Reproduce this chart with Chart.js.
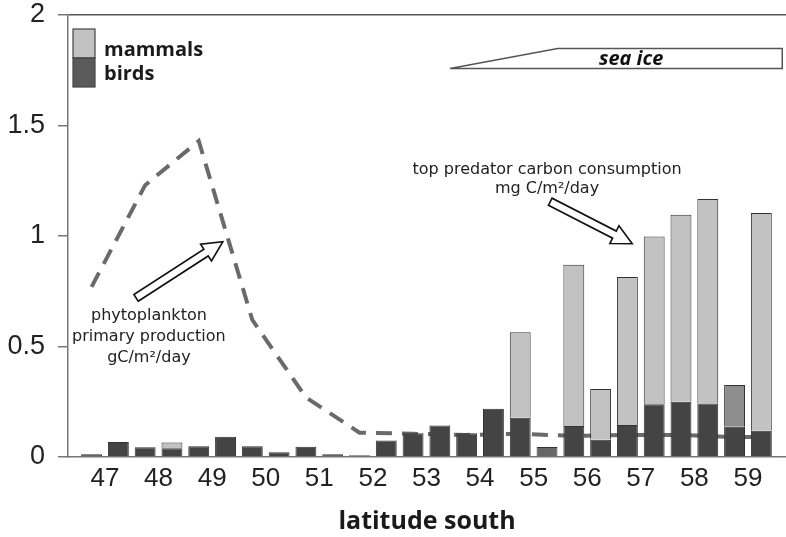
<!DOCTYPE html>
<html>
<head>
<meta charset="utf-8">
<script src="https://cdn.jsdelivr.net/npm/chart.js@4"></script>
<style>
  html, body { margin: 0; padding: 0; background: #fff; }
  #wrap { width: 786px; height: 537px; position: relative; }
</style>
</head>
<body>
<div id="wrap"><canvas id="latChart"></canvas></div>
<script>
// half-degree latitude bins (bar centres, degrees south)
const binCentres = [46.75, 47.25, 47.75, 48.25, 48.75, 49.25, 49.75, 50.25, 50.75, 51.25, 51.75, 52.25, 52.75,
  53.25, 53.75, 54.25, 54.75, 55.25, 55.75, 56.25, 56.75, 57.25, 57.75, 58.25, 58.75, 59.25];

// top predator carbon consumption, mg C/m2/day
const birds = [0.012, 0.068, 0.044, 0.040, 0.049, 0.092, 0.049, 0.022, 0.046, 0.012, 0.008, 0.075, 0.108,
  0.142, 0.108, 0.218, 0.178, 0.045, 0.140, 0.078, 0.145, 0.239, 0.250, 0.242, 0.137, 0.119];
const mammals = [null, null, null, 0.026, null, null, null, null, null, null, null, null, null,
  null, null, null, 0.387, null, 0.730, 0.230, 0.669, 0.759, 0.846, 0.925, 0.189, 0.985];

// phytoplankton primary production, gC/m2/day
const ppLat = [46.75, 47.75, 48.75, 49.75, 50.75, 51.75, 52.75, 53.75, 54.75, 55.75, 56.75, 57.75, 58.75, 59.25];
const ppValues = [0.77, 1.23, 1.43, 0.62, 0.27, 0.11, 0.105, 0.10, 0.105, 0.095, 0.10, 0.10, 0.09, 0.09];

const latTicks = [47, 48, 49, 50, 51, 52, 53, 54, 55, 56, 57, 58, 59];
const valueTicks = [0, 0.5, 1, 1.5, 2];

// bins where the observers shaded the bar a bit differently
const oddBirdBins = [55.25];
const oddMammalBins = [58.75];

const DARK = '#444';
const LIGHT = '#c2c2c2';
const EDGE = '#333';

function toPoints(xs, ys) {
  return xs.map((x, i) => ({ x: x, y: ys[i] }));
}

// hollow block arrow from tail to tip (pixel coords)
function hollowArrow(ctx, x0, y0, x1, y1) {
  const dx = x1 - x0, dy = y1 - y0;
  const len = Math.hypot(dx, dy);
  const ux = dx / len, uy = dy / len;
  const nx = -uy, ny = ux;
  const shaft = 4, head = 10, headLen = 20;
  const bx = x1 - ux * headLen, by = y1 - uy * headLen;
  ctx.beginPath();
  ctx.moveTo(x0 + nx * shaft, y0 + ny * shaft);
  ctx.lineTo(bx + nx * shaft, by + ny * shaft);
  ctx.lineTo(bx + nx * head, by + ny * head);
  ctx.lineTo(x1, y1);
  ctx.lineTo(bx - nx * head, by - ny * head);
  ctx.lineTo(bx - nx * shaft, by - ny * shaft);
  ctx.lineTo(x0 - nx * shaft, y0 - ny * shaft);
  ctx.closePath();
  ctx.fillStyle = '#fff';
  ctx.fill();
  ctx.lineWidth = 1.6;
  ctx.strokeStyle = '#111';
  ctx.stroke();
}

const annotations = {
  id: 'annotations',
  afterDatasetsDraw(chart) {
    const { ctx, chartArea, scales: { x, y } } = chart;
    const px = v => x.getPixelForValue(v);
    const py = v => y.getPixelForValue(v);
    ctx.save();

    // legend: one split swatch
    const lx = chartArea.left + 5, ly = chartArea.top + 14;
    ctx.lineWidth = 1.2;
    ctx.strokeStyle = '#444';
    ctx.fillStyle = LIGHT;
    ctx.fillRect(lx, ly, 22, 29);
    ctx.fillStyle = '#5a5a5a';
    ctx.fillRect(lx, ly + 29, 22, 29);
    ctx.strokeRect(lx, ly, 22, 29);
    ctx.strokeRect(lx, ly + 29, 22, 29);
    ctx.fillStyle = '#1a1a1a';
    ctx.font = 'bold 20px "Open Sans"';
    ctx.textAlign = 'left';
    ctx.textBaseline = 'alphabetic';
    ctx.fillText('mammals', lx + 31, ly + 27);
    ctx.fillText('birds', lx + 31, ly + 51);

    // sea ice wedge
    ctx.beginPath();
    ctx.moveTo(px(53.44), py(1.758));
    ctx.lineTo(px(55.45), py(1.848));
    ctx.lineTo(px(59.64), py(1.848));
    ctx.lineTo(px(59.64), py(1.758));
    ctx.closePath();
    ctx.fillStyle = '#fff';
    ctx.fill();
    ctx.lineWidth = 1.5;
    ctx.strokeStyle = '#555';
    ctx.stroke();
    ctx.fillStyle = '#111';
    ctx.font = 'italic bold 20px "Open Sans"';
    ctx.textAlign = 'center';
    ctx.textBaseline = 'middle';
    ctx.fillText('sea ice', px(56.82), py(1.80));

    // series labels
    ctx.font = '16px "DejaVu Sans"';
    ctx.fillStyle = '#222';
    ctx.fillText('top predator carbon consumption', px(55.25), py(1.30));
    ctx.fillText('mg C/m²/day', px(55.25), py(1.214));
    ctx.fillText('phytoplankton', px(47.82), py(0.639));
    ctx.fillText('primary production', px(47.82), py(0.544));
    ctx.fillText('gC/m²/day', px(47.82), py(0.448));

    hollowArrow(ctx, px(55.31), py(1.155), px(56.84), py(0.965));
    hollowArrow(ctx, px(47.58), py(0.72), px(49.2), py(0.974));
    ctx.restore();
  }
};

new Chart(document.getElementById('latChart'), {
  type: 'bar',
  data: {
    datasets: [{
      label: 'birds',
      data: toPoints(binCentres, birds),
      backgroundColor: c => oddBirdBins.includes(c.raw && c.raw.x) ? '#676767' : DARK,
      borderColor: EDGE,
      borderWidth: 1,
      barPercentage: 0.78,
      categoryPercentage: 1,
      order: 1
    }, {
      label: 'mammals',
      data: toPoints(binCentres, mammals),
      backgroundColor: c => oddMammalBins.includes(c.raw && c.raw.x) ? '#8d8d8d' : LIGHT,
      borderColor: EDGE,
      borderWidth: 1,
      barPercentage: 0.78,
      categoryPercentage: 1,
      order: 1
    }, {
      type: 'line',
      label: 'phytoplankton',
      stack: 'pp',
      data: toPoints(ppLat, ppValues),
      borderColor: '#6a6a6a',
      borderWidth: 4,
      borderDash: [16, 10],
      pointRadius: 0,
      tension: 0,
      fill: false,
      order: 2
    }]
  },
  options: {
    animation: false,
    responsive: true,
    maintainAspectRatio: false,
    layout: { padding: { top: 15, right: 0, left: 0, bottom: 0 } },
    plugins: {
      legend: { display: false },
      tooltip: { enabled: false }
    },
    scales: {
      x: {
        type: 'linear',
        stacked: true,
        offset: false,
        min: 46.31,
        max: 59.71,
        afterBuildTicks: scale => { scale.ticks = latTicks.map(v => ({ value: v })); },
        afterFit: scale => {
          scale.height = 80;
          scale.paddingLeft = 0;
          scale.paddingRight = 0;
        },
        grid: { display: false, drawTicks: false },
        border: { display: true, color: '#777', width: 1.5 },
        ticks: {
          padding: 6,
          color: '#222',
          callback: v => String(v),
          font: { family: '"Liberation Sans"', size: 26 }
        },
        title: {
          display: true,
          text: 'latitude south',
          color: '#1a1a1a',
          padding: { top: 0, bottom: 3 },
          font: { family: '"Open Sans"', size: 25, weight: 'bold', lineHeight: 1 }
        }
      },
      y: {
        stacked: true,
        min: 0,
        max: 2,
        afterBuildTicks: scale => { scale.ticks = valueTicks.map(v => ({ value: v })); },
        afterFit: scale => {
          scale.width = 68;
          scale.paddingTop = 0;
          scale.paddingBottom = 0;
        },
        grid: {
          drawOnChartArea: true,
          color: c => (c.tick && c.tick.value === 2) ? '#555' : 'rgba(0,0,0,0)',
          lineWidth: 1.5,
          tickColor: '#777',
          tickLength: 10
        },
        border: { display: true, color: '#777', width: 1.5 },
        ticks: {
          padding: 13,
          color: '#222',
          callback: v => String(v),
          font: { family: '"Liberation Sans"', size: 27, lineHeight: 1 }
        }
      }
    }
  },
  plugins: [annotations]
});
</script>
</body>
</html>
